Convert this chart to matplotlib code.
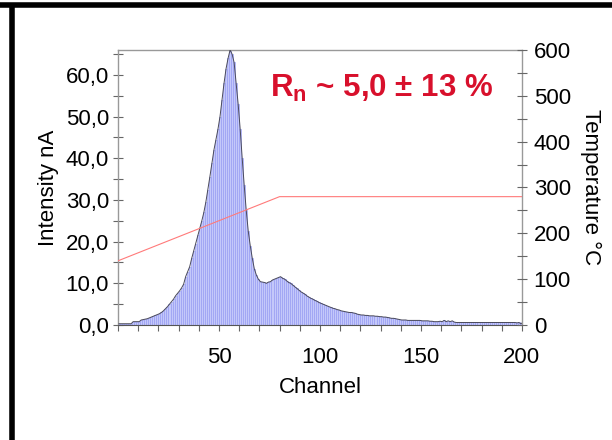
import matplotlib
matplotlib.use("Agg")
from matplotlib import pyplot as plt
from matplotlib.ticker import MultipleLocator, FuncFormatter
from matplotlib.lines import Line2D

plt.rcParams['font.family'] = ['Liberation Sans', 'DejaVu Sans']

# intensity per channel (nA), channels 0..199
intensity = [
    0.3, 0.3, 0.3, 0.3, 0.3, 0.3, 0.3,
    0.8, 0.8, 0.8, 0.8,
    1.2, 1.3, 1.4, 1.5, 1.7,
    1.9, 2.1, 2.3, 2.5, 2.7,
    3.0, 3.4, 3.9, 4.4, 5.0,
    5.6, 6.2, 7.0, 7.6, 8.2,
    8.9, 9.8, 11.6, 12.8, 14.0,
    16.0, 17.8, 19.5, 21.5, 23.2,
    25.0, 27.0, 29.5, 32.5, 35.6,
    38.8, 42.0, 44.5, 47.0, 50.0,
    54.0, 58.0, 61.5, 64.0, 66.0,
    65.0, 63.0, 58.0, 53.0, 47.0,
    40.0, 33.5, 27.5, 22.5, 19.0,
    16.0, 13.5, 12.0, 11.0, 10.4,
    10.3, 10.2, 10.0, 10.3, 10.4,
    10.8, 11.0, 11.2, 11.4, 11.6,
    11.2, 11.0, 10.6, 10.2, 10.0,
    9.6, 9.2, 8.8, 8.4, 8.0,
    7.7, 7.4, 7.0, 6.7, 6.4,
    6.2, 5.9, 5.7, 5.4, 5.2,
    5.0, 4.8, 4.6, 4.4, 4.2,
    4.0, 3.9, 3.7, 3.6, 3.4,
    3.3, 3.2, 3.1, 3.0, 3.0,
    2.9, 2.8, 2.6, 2.5, 2.4,
    2.4, 2.3, 2.3, 2.2, 2.2,
    2.2, 2.1, 2.1, 2.0, 2.0,
    1.9, 1.9, 1.8, 1.7, 1.6,
    1.6, 1.5, 1.4, 1.3, 1.2,
    1.2, 1.2, 1.1, 1.1, 1.1,
    1.1, 1.1, 1.1, 1.1, 1.0,
    1.0, 1.0, 1.0, 0.9, 0.9,
    0.8, 0.8, 0.8, 0.9, 0.8,
    1.1, 0.8, 1.0, 0.8, 1.0,
    0.7, 0.6, 0.6, 0.6, 0.6,
    0.6, 0.6, 0.6, 0.6, 0.6,
    0.6, 0.6, 0.6, 0.6, 0.6,
    0.6, 0.6, 0.6, 0.6, 0.6,
    0.6, 0.6, 0.6, 0.6, 0.6,
    0.6, 0.6, 0.6, 0.6, 0.6,
    0.6, 0.5, 0.6, 0.3, 0.6,
]
channels = list(range(len(intensity)))

# temperature program (channel, degC)
temp_channel = [0, 80, 200]
temp_value = [140, 280, 280]

fig = plt.figure(figsize=(6.12, 4.40), dpi=100)
ax = fig.add_axes([0.1928, 0.2614, 0.660, 0.625])

centers = [c + 0.5 for c in channels]
ax.bar(centers, intensity, width=1.0, color="#c4c8fa", edgecolor="#8f94f2",
       linewidth=0.4, zorder=2)
ax.plot(centers, intensity, color="#4a4a5a", linewidth=0.7, zorder=3)

ax.set_xlim(0, 200)
ax.set_ylim(0, 66)

ax.xaxis.set_major_locator(MultipleLocator(50))
ax.xaxis.set_minor_locator(MultipleLocator(10))
ax.yaxis.set_major_locator(MultipleLocator(10))
ax.yaxis.set_minor_locator(MultipleLocator(5))
ax.yaxis.set_major_formatter(FuncFormatter(lambda v, p: f"{v:.1f}".replace(".", ",")))
ax.xaxis.set_major_formatter(FuncFormatter(lambda v, p: "" if v == 0 else f"{v:.0f}"))

ax.tick_params(axis="x", which="both", direction="out", length=4, width=0.8,
               color="#666666", labelsize=16, pad=12)
ax.tick_params(axis="y", which="both", direction="inout", length=7, width=0.8,
               color="#666666", labelsize=16, pad=3)

for s in ["top", "left", "right"]:
    ax.spines[s].set_color("#999999")
    ax.spines[s].set_linewidth(1.0)
ax.spines["bottom"].set_color("#555555")

ax.set_xlabel("Channel", fontsize=16, labelpad=6)
ax.set_ylabel("Intensity nA", fontsize=16, labelpad=5)

ax2 = ax.twinx()
ax2.plot(temp_channel, temp_value, color="#ff7a7a", linewidth=0.8, zorder=4)
ax2.set_ylim(0, 600)
ax2.yaxis.set_major_locator(MultipleLocator(100))
ax2.yaxis.set_minor_locator(MultipleLocator(50))
ax2.tick_params(axis="y", which="both", direction="inout", length=7, width=0.8,
                color="#666666", labelsize=16, pad=5)
for s in ["top", "left", "right", "bottom"]:
    ax2.spines[s].set_visible(False)
ax2.set_ylabel("Temperature °C", fontsize=16, rotation=-90, labelpad=22)

ax.text(0.376, 0.829, r"R$_\mathregular{n}$ ~ 5,0 ± 13 %", transform=ax.transAxes,
        color="#d8102c", fontsize=22.5, fontweight="bold", va="baseline")

# thick frame lines of the slide
fig.add_artist(Line2D([0, 1], [1 - 5.5 / 440, 1 - 5.5 / 440], color="black",
                      linewidth=4, transform=fig.transFigure))
fig.add_artist(Line2D([11.5 / 612, 11.5 / 612], [0, 1 - 8 / 440], color="black",
                      linewidth=4, transform=fig.transFigure))

fig.savefig("out.png", dpi=100)
